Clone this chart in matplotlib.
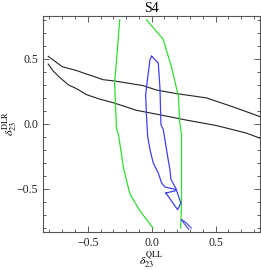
import matplotlib.pyplot as plt
from matplotlib.ticker import MultipleLocator

plt.rcParams['font.family'] = ['Liberation Serif', 'DejaVu Serif']
plt.rcParams['mathtext.fontset'] = 'stix'

# black band (two contour lines)
black_upper_x = [-0.81, -0.755, -0.70, -0.664, -0.586, -0.53, -0.456, -0.38, -0.29, -0.07,
                 0.04, 0.195, 0.43, 0.64, 0.81, 0.85]
black_upper_y = [0.52, 0.48, 0.44, 0.43, 0.41, 0.39, 0.366, 0.34, 0.33, 0.295,
                 0.26, 0.233, 0.20, 0.13, 0.07, 0.055]
black_lower_x = [-0.81, -0.769, -0.716, -0.651, -0.586, -0.51, -0.404, -0.29, -0.12, 0.065,
                 0.27, 0.51, 0.74, 0.85]
black_lower_y = [0.46, 0.405, 0.354, 0.30, 0.27, 0.225, 0.19, 0.16, 0.105, 0.07,
                 0.03, -0.013, -0.07, -0.11]

# green band
green_left_x = [-0.25, -0.27, -0.29, -0.275, -0.26, -0.22, -0.17, -0.09, 0.01]
green_left_y = [0.80, 0.55, 0.315, -0.04, -0.08, -0.34, -0.54, -0.67, -0.80]
green_right_x = [-0.04, 0.09, 0.155, 0.21, 0.22, 0.234, 0.234, 0.234, 0.227]
green_right_y = [0.80, 0.65, 0.44, 0.21, 0.01, -0.08, -0.34, -0.60, -0.80]

# blue region
blue_main_x = [0.0, 0.052, 0.065, 0.073, 0.091, 0.104, 0.125, 0.143, 0.151, 0.169, 0.195,
               0.104, 0.078, 0.052, 0.0125, -0.013, -0.031, -0.039, -0.047, -0.031, -0.013, 0.0]
blue_main_y = [0.52, 0.469, 0.277, -0.005, -0.044, -0.121, -0.249, -0.349, -0.426, -0.459, -0.505,
               -0.485, -0.454, -0.377, -0.30, -0.198, -0.095, 0.033, 0.225, 0.354, 0.495, 0.52]
blue_tri_x = [0.112, 0.195, 0.229, 0.203, 0.112]
blue_tri_y = [-0.531, -0.511, -0.608, -0.659, -0.531]
blue_tip1_x = [0.235, 0.27, 0.31]
blue_tip1_y = [-0.735, -0.76, -0.80]
blue_tip2_x = [0.235, 0.29]
blue_tip2_y = [-0.74, -0.81]

fig = plt.figure(figsize=(2.61, 2.70), dpi=100)
ax = fig.add_axes([0.165, 0.141, 0.832, 0.8])

ax.plot(black_upper_x, black_upper_y, color='#222222', lw=0.8)
ax.plot(black_lower_x, black_lower_y, color='#222222', lw=0.8)
ax.plot(green_left_x, green_left_y, color='#33dd33', lw=0.9)
ax.plot(green_right_x, green_right_y, color='#33dd33', lw=0.9)
ax.plot(blue_main_x, blue_main_y, color='#4040ee', lw=0.9)
ax.plot(blue_tri_x, blue_tri_y, color='#4040ee', lw=0.9)
ax.plot(blue_tip1_x, blue_tip1_y, color='#4040ee', lw=0.8)
ax.plot(blue_tip2_x, blue_tip2_y, color='#4040ee', lw=0.8)

ax.set_xlim(-0.85, 0.85)
ax.set_ylim(-0.83, 0.83)
ax.xaxis.set_major_locator(MultipleLocator(0.5))
ax.yaxis.set_major_locator(MultipleLocator(0.5))
ax.xaxis.set_minor_locator(MultipleLocator(0.1))
ax.yaxis.set_minor_locator(MultipleLocator(0.1))
ax.tick_params(which='both', direction='in', top=True, right=True, colors='#444444',
               labelcolor='#222222', labelsize=8.5, width=0.6)
ax.tick_params(which='major', length=4)
ax.tick_params(which='minor', length=2)
ax.set_xticks([-0.5, 0.0, 0.5])
ax.set_xticklabels(['\u22120.5', '0.0', '0.5'])
ax.set_yticks([-0.5, 0.0, 0.5])
ax.set_yticklabels(['\u22120.5', '0.0', '0.5'])
for s in ax.spines.values():
    s.set_color('#555555')
    s.set_linewidth(0.8)

ax.set_title('S4', fontsize=10, pad=3)
ax.set_xlabel(r'$\delta_{23}^{\mathrm{QLL}}$', fontsize=8.5, labelpad=1)
ax.set_ylabel(r'$\delta_{23}^{\mathrm{DLR}}$', fontsize=8.5, labelpad=-2)

fig.savefig('out.png', dpi=100)
